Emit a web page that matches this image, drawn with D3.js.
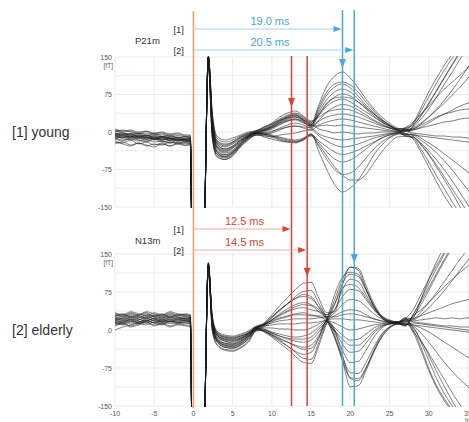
<!DOCTYPE html>
<html>
<head>
<meta charset="utf-8">
<script src="https://cdn.jsdelivr.net/npm/d3@7"></script>
<style>
  body { margin: 0; background: #fff; }
  svg { display: block; font-family: "Liberation Sans", Arial, sans-serif; }
</style>
</head>
<body>
<svg id="chart" width="469" height="422"></svg>
<script>
// sample times (ms) shared by every trace
const times = [-10,-9,-8,-7,-6,-5,-4,-3,-2,-1,-0.4, -0.1,1.2,1.9,2.4, 3,4,5,6,7,8, 9,10,11,12,13,14,15, 16,17,18,19,20,21,22,23,24,25,26,27, 28,29,30,31,32,33,34,35,36]

// [1] young, fT per sensor
const young_traces = [
  [-2,-5,-3,-8,-6,-10,-9,-12,-10,-14,-13, -300,-300,150,30, -20,-28,-22,-12,-5,0, 6,14,24,32,36,28,18, 55,92,112,120,108,88,66,46,30,18,8,5, 18,48,80,108,134,156,176,195,212],
  [4,0,2,-4,-2,-6,-4,-9,-7,-10,-12, -300,-300,148,20, -30,-40,-32,-18,-8,-2, 4,12,22,30,34,24,14, 45,74,90,96,88,72,54,38,24,14,6,-3, -14,-40,-70,-100,-128,-152,-174,-194,-212],
  [-6,-4,-9,-7,-12,-8,-14,-11,-16,-13,-15, -300,-300,150,10, -35,-45,-38,-22,-10,-3, 2,8,18,26,30,22,12, 40,65,80,86,80,66,50,36,22,12,4,2, 6,14,22,30,36,40,44,46,48],
  [-10,-12,-8,-14,-11,-16,-13,-18,-15,-17,-18, -300,-300,145,0, -40,-50,-42,-26,-12,-4, 0,6,14,22,26,20,10, 34,56,70,76,72,60,46,32,20,10,4,-5, 12,32,56,82,108,134,158,180,200],
  [2,-2,-4,-1,-6,-3,-8,-6,-11,-9,-10, -300,-300,152,25, -18,-26,-20,-10,-4,2, 8,16,26,34,38,30,20, 34,52,62,66,60,50,40,30,20,12,6,6, -8,-24,-44,-66,-90,-114,-138,-162,-186],
  [-14,-10,-16,-12,-18,-14,-20,-17,-22,-19,-20, -300,-300,140,-5, -45,-52,-45,-28,-14,-6, -4,0,8,14,18,14,8, 24,40,50,55,52,44,34,24,16,8,2,-4, -6,-8,-10,-12,-14,-16,-18,-20,-22],
  [0,4,0,-3,1,-4,-2,-6,-4,-8,-8, -300,-300,150,35, -12,-20,-16,-8,-2,2, 10,18,30,38,42,32,22, 30,40,44,46,44,38,30,22,14,8,4,3, 10,26,46,70,96,120,146,170,195],
  [-8,-6,-11,-9,-14,-10,-16,-13,-18,-16,-17, -300,-300,146,15, -28,-36,-30,-18,-8,-2, 2,8,16,22,24,18,12, 22,30,34,36,34,30,24,18,12,8,4,-6, -4,-12,-22,-32,-44,-56,-68,-80,-92],
  [-18,-22,-16,-24,-20,-26,-22,-28,-24,-27,-26, -300,-300,138,-10, -48,-55,-48,-30,-16,-6, -6,-2,4,10,12,8,4, 14,20,24,26,24,20,16,12,8,4,2,4, 8,18,30,44,58,74,90,108,126],
  [-4,-8,-6,-10,-8,-12,-10,-14,-12,-15,-14, -300,-300,150,22, -22,-30,-24,-14,-6,0, 4,10,18,24,26,20,12, 12,14,12,14,12,10,8,6,4,2,0,-8, -10,-22,-38,-56,-76,-98,-122,-146,-170],
  [6,2,4,0,2,-2,0,-4,-2,-6,-6, -300,-300,150,40, -8,-16,-12,-6,0,3, 10,16,24,28,30,24,16, 6,2,-2,0,-2,-4,-2,-2,0,0,0,2, 4,8,12,16,20,22,26,28,30],
  [-12,-16,-14,-18,-15,-20,-18,-22,-20,-22,-22, -300,-300,142,5, -38,-46,-40,-24,-10,-3, -2,2,6,10,12,10,8, -4,-10,-14,-16,-14,-12,-10,-8,-5,-3,-1,5, 6,16,30,46,64,84,106,130,156],
  [-20,-24,-28,-22,-26,-30,-24,-28,-22,-26,-24, -300,-300,135,-12, -50,-55,-46,-28,-14,-6, -8,-10,-6,-4,-2,2,4, -8,-18,-26,-30,-28,-24,-18,-12,-8,-4,-2,-7, -10,-26,-46,-70,-96,-122,-150,-176,-200],
  [-2,-6,-4,-10,-7,-12,-9,-14,-12,-16,-16, -300,-300,150,18, -25,-34,-28,-16,-8,-2, -4,-8,-12,-16,-18,-14,-6, -18,-30,-40,-45,-42,-36,-28,-20,-12,-6,-2,3, -2,-4,-6,-8,-8,-10,-10,-12,-12],
  [-10,-8,-12,-10,-14,-12,-16,-14,-18,-16,-18, -300,-300,148,8, -32,-42,-36,-22,-10,-2, -2,-6,-10,-14,-16,-12,-4, -22,-40,-54,-60,-56,-46,-34,-22,-12,-6,-2,8, 14,34,58,84,110,136,162,188,214],
  [-6,-10,-8,-12,-10,-15,-12,-16,-14,-18,-19, -300,-300,144,12, -30,-38,-32,-20,-8,-2, -6,-10,-16,-20,-22,-16,-6, -30,-55,-75,-85,-82,-70,-52,-34,-20,-10,-4,-4, -6,-16,-28,-42,-58,-76,-96,-116,-136],
  [-24,-20,-26,-22,-28,-24,-26,-20,-24,-22,-24, -300,-300,136,-8, -44,-50,-42,-26,-12,-4, -10,-14,-18,-20,-20,-14,-4, -40,-75,-105,-120,-112,-96,-72,-46,-26,-12,-4,1, 4,10,18,28,36,44,52,58,64],
  [-14,-18,-12,-16,-20,-14,-18,-22,-16,-20,-20, -300,-300,140,0, -40,-48,-40,-24,-10,-2, -4,-8,-14,-18,-20,-16,-8, -26,-48,-70,-86,-96,-96,-84,-62,-40,-22,-10,-9, -12,-34,-60,-88,-114,-140,-164,-186,-206],
  [-8,-12,-10,-6,-10,-14,-10,-12,-16,-14,-15, -300,-300,150,28, -24,-34,-28,-16,-6,0, 4,10,20,28,32,24,14, 50,80,96,100,94,80,60,42,26,14,6,7, 16,42,70,98,124,148,170,190,210],
  [-4,-2,-6,-4,-8,-6,-10,-8,-12,-10,-12, -300,-300,152,32, -16,-24,-20,-10,-3,2, 6,12,22,30,34,26,16, 36,58,68,70,68,60,48,36,24,14,6,9, 20,36,52,70,86,100,114,128,140]
]

// [2] elderly, fT per sensor
const elderly_traces = [
  [22,26,20,24,28,22,26,20,24,22,20, -300,-300,134,20, -10,-18,-20,-16,-8,4, 14,30,48,64,80,92,94, 62,34,36,90,124,118,82,48,26,18,16,20, 24,60,100,135,165,190,215,240,260],
  [18,14,20,16,22,18,14,18,16,20,18, -300,-300,130,10, -20,-30,-32,-26,-14,2, 10,24,38,52,66,76,78, 52,24,-10,-60,-112,-110,-80,-44,-14,4,12,12, 6,-24,-60,-96,-126,-150,-172,-190,-210],
  [28,32,26,30,34,28,32,26,30,28,26, -300,-300,128,24, -6,-14,-16,-12,-6,6, 12,26,40,52,62,66,62, 46,30,40,80,100,96,70,44,28,20,16,18, 18,20,22,24,22,24,22,24,22],
  [14,18,12,16,20,14,18,12,16,14,12, -300,-300,126,6, -24,-34,-36,-30,-18,0, 8,20,32,42,50,54,50, 40,24,0,-50,-96,-100,-76,-40,-10,6,12,8, 30,60,92,122,150,176,200,225,250],
  [20,24,30,26,22,28,24,30,26,22,24, -300,-300,132,16, -14,-22,-26,-20,-10,4, 10,20,28,36,42,44,40, 36,30,52,92,110,106,78,46,24,14,12,12, 0,-34,-76,-110,-136,-158,-178,-196,-214],
  [10,14,8,12,16,10,14,8,12,10,8, -300,-300,120,0, -28,-38,-40,-34,-22,0, 6,16,22,26,30,30,28, 28,26,40,66,80,78,60,40,24,16,14,22, 40,70,100,128,154,180,205,230,255],
  [24,20,26,22,18,24,20,26,22,24,22, -300,-300,130,22, -8,-16,-18,-14,-6,6, 10,14,18,20,22,22,22, 24,24,34,50,60,58,46,32,22,16,14,16, 10,4,-4,-14,-24,-34,-44,-54,-64],
  [32,28,34,30,36,32,28,34,30,32,30, -300,-300,124,26, -4,-12,-14,-10,-4,6, 8,10,12,12,12,14,14, 16,20,28,36,40,38,30,22,18,14,14,24, 22,36,54,74,96,118,140,160,180],
  [16,12,18,14,10,16,12,18,14,16,14, -300,-300,122,12, -18,-28,-30,-24,-12,2, 4,4,2,2,0,0,4, 12,20,22,22,20,20,18,16,14,14,14,10, 14,12,10,8,6,4,2,0,-2],
  [26,30,24,28,32,26,30,24,28,26,24, -300,-300,128,18, -10,-20,-22,-18,-8,4, 2,-4,-8,-12,-14,-12,-6, 6,18,14,6,0,2,6,10,12,14,14,20, 20,30,44,60,78,98,118,138,158],
  [0,6,10,14,18,14,20,16,22,18,16, -300,-300,118,4, -22,-32,-34,-28,-16,0, 0,-6,-12,-18,-22,-24,-20, -4,16,4,-10,-20,-18,-8,4,10,12,14,12, 8,-6,-24,-44,-64,-82,-98,-112,-126],
  [20,16,22,18,14,20,16,22,18,20,18, -300,-300,126,14, -16,-26,-28,-22,-12,2, -2,-10,-18,-24,-30,-34,-30, -10,16,0,-28,-44,-42,-26,-6,6,12,14,22, 16,14,12,10,8,8,6,6,4],
  [30,26,32,28,24,30,26,32,28,30,28, -300,-300,130,24, -6,-14,-16,-12,-6,6, -2,-12,-22,-32,-42,-48,-44, -16,18,-4,-40,-64,-62,-40,-14,4,12,14,10, 30,56,84,112,140,166,192,218,244],
  [12,16,20,14,18,22,16,20,14,18,16, -300,-300,124,8, -20,-30,-32,-26,-14,2, -4,-14,-26,-38,-52,-64,-66, -30,14,50,82,90,84,64,42,26,18,16,20, 4,-20,-50,-82,-112,-140,-166,-190,-214],
  [22,18,24,20,26,22,18,24,20,22,20, -300,-300,132,18, -12,-22,-24,-18,-10,4, -2,-10,-20,-32,-44,-56,-58, -24,20,70,104,114,110,80,48,26,16,14,16, 26,50,78,108,136,162,188,214,240],
  [18,22,16,20,24,18,22,16,20,18,16, -300,-300,128,12, -18,-26,-28,-22,-12,2, 12,26,40,52,62,70,66, 44,20,-14,-54,-84,-86,-64,-34,-8,6,12,10, 22,28,34,40,46,52,56,60,64],
  [34,30,36,32,28,34,30,36,32,30,28, -300,-300,126,28, -2,-10,-12,-8,-2,8, 12,18,24,28,32,34,30, 26,18,-16,-60,-94,-96,-74,-42,-14,4,12,14, -4,-40,-80,-114,-140,-162,-182,-200,-218],
  [8,12,6,10,14,8,12,6,10,8,6, -300,-300,120,-2, -30,-40,-42,-36,-24,-2, 0,-6,-12,-16,-18,-18,-14, 2,20,60,100,124,122,88,52,28,18,16,24, -2,-22,-46,-72,-98,-124,-148,-170,-192],
  [26,22,28,24,30,26,22,28,24,26,24, -300,-300,130,20, -10,-18,-20,-16,-8,4, 10,20,30,38,46,50,48, 36,26,26,30,32,30,26,22,18,16,14,18, 10,8,6,4,2,0,-2,-4,-6],
  [14,10,16,12,18,14,10,16,12,14,12, -300,-300,122,6, -22,-34,-36,-30,-18,0, -2,-8,-16,-24,-32,-38,-36, -14,12,-2,-18,-30,-30,-18,-2,8,12,14,8, 28,40,54,70,86,100,114,126,138]
]

const y_ticks = [150, 75, 0, -75, -150]
const x_ticks = [-10, -5, 0, 5, 10, 15, 20, 25, 30, 35]
const group_labels = ['[1] young', '[2] elderly']
const row_labels = ['[1]', '[2]']
const component_names = ['P21m', 'N13m']
const p21m_latency = [19.0, 20.5]
const n13m_latency = [12.5, 14.5]
const p21m_peak = [128, 132]
const n13m_peak = [50, 105]

const blue = '#4ea4dc'
const red = '#d4453a'
const orange = '#e6a66c'

const svg = d3.select('#chart')

const x = d3.scaleLinear().domain([-10, 35]).range([115, 468])

const panels = [
    { traces: young_traces, top: 57, bottom: 207 },
    { traces: elderly_traces, top: 254, bottom: 406 }
]

panels.forEach((p, i) => {
    p.y = d3.scaleLinear().domain([-150, 150]).range([p.bottom, p.top])
    const g = svg.append('g')

    // grid
    g.selectAll('.hgrid')
        .data(d3.range(-150, 150.1, 37.5))
        .enter()
        .append('line')
        .attr('x1', x(-10)).attr('x2', 469)
        .attr('y1', d => p.y(d)).attr('y2', d => p.y(d))
        .attr('stroke', '#e6e6e6')
        .attr('stroke-width', 0.8)
    g.selectAll('.vgrid')
        .data(x_ticks)
        .enter()
        .append('line')
        .attr('x1', d => x(d)).attr('x2', d => x(d))
        .attr('y1', p.top).attr('y2', p.bottom)
        .attr('stroke', '#e6e6e6')
        .attr('stroke-width', 0.8)

    // y tick labels
    g.selectAll('.ylab')
        .data(y_ticks)
        .enter()
        .append('text')
        .attr('x', 112)
        .attr('y', d => p.y(d) + 2.5)
        .attr('text-anchor', 'end')
        .attr('font-size', '7px')
        .attr('fill', '#555')
        .text(d => d)
    g.append('text')
        .attr('x', 113)
        .attr('y', p.top + 11)
        .attr('text-anchor', 'end')
        .attr('font-size', '6.5px')
        .attr('fill', '#555')
        .text('[fT]')

    // traces
    svg.append('clipPath')
        .attr('id', 'clip' + i)
        .append('rect')
        .attr('x', x(-10)).attr('y', p.top - 1)
        .attr('width', 469 - x(-10)).attr('height', p.bottom - p.top + 2)

    const line = d3.line()
        .x((d, k) => x(times[k]))
        .y(d => p.y(d))
        .curve(d3.curveMonotoneX)

    g.append('g')
        .attr('clip-path', 'url(#clip' + i + ')')
        .selectAll('path')
        .data(p.traces)
        .enter()
        .append('path')
        .attr('d', line)
        .attr('fill', 'none')
        .attr('stroke', '#1a1a1a')
        .attr('stroke-opacity', 0.55)
        .attr('stroke-width', 1)

    // group label
    svg.append('text')
        .attr('x', 12)
        .attr('y', p.y(0) + 5)
        .attr('font-size', '14px')
        .attr('fill', '#333')
        .text(group_labels[i])
})

// x tick labels on the lower panel (the last one runs off the edge, as in the original)
svg.selectAll('.xlab')
    .data(x_ticks)
    .enter()
    .append('text')
    .attr('x', d => x(d))
    .attr('y', 416)
    .attr('text-anchor', 'middle')
    .attr('font-size', '7px')
    .attr('fill', '#555')
    .text(d => d)
svg.append('text')
    .attr('x', 465)
    .attr('y', 423)
    .attr('font-size', '6.5px')
    .attr('fill', '#555')
    .text('[ms]')

// stimulus line
svg.append('line')
    .attr('x1', x(0)).attr('x2', x(0))
    .attr('y1', 11).attr('y2', 408)
    .attr('stroke', orange)
    .attr('stroke-width', 1.6)

// latency lines
n13m_latency.forEach(t => {
    svg.append('line')
        .attr('x1', x(t)).attr('x2', x(t))
        .attr('y1', 56).attr('y2', 406)
        .attr('stroke', red)
        .attr('stroke-width', 1.5)
})
p21m_latency.forEach(t => {
    svg.append('line')
        .attr('x1', x(t)).attr('x2', x(t))
        .attr('y1', 10).attr('y2', 406)
        .attr('stroke', blue)
        .attr('stroke-width', 1.5)
})

// down arrows marking the peaks
function downArrow(t, yy, color) {
    const cx = x(t)
    svg.append('path')
        .attr('d', `M${cx - 3.5},${yy - 9}L${cx + 3.5},${yy - 9}L${cx},${yy}Z`)
        .attr('fill', color)
}
panels.forEach((p, i) => {
    downArrow(n13m_latency[i], p.y(n13m_peak[i]), red)
    downArrow(p21m_latency[i], p.y(p21m_peak[i]), blue)
})

// latency brackets above each panel
const annotations = [
    { rows: [29, 50], lat: p21m_latency, color: blue, light: '#a9d2ef', name: component_names[0] },
    { rows: [229, 250], lat: n13m_latency, color: red, light: '#eeaaa3', name: component_names[1] }
]
annotations.forEach(a => {
    a.rows.forEach((ry, k) => {
        const tip = x(a.lat[k])
        svg.append('line')
            .attr('x1', x(0)).attr('x2', tip - 6)
            .attr('y1', ry).attr('y2', ry)
            .attr('stroke', a.light)
            .attr('stroke-width', 1)
        svg.append('path')
            .attr('d', `M${tip - 9},${ry - 3}L${tip - 1},${ry}L${tip - 9},${ry + 3}Z`)
            .attr('fill', a.color)
        svg.append('text')
            .attr('x', 184)
            .attr('y', ry + 3.5)
            .attr('text-anchor', 'end')
            .attr('font-size', '9.5px')
            .attr('fill', '#333')
            .text(row_labels[k])
        svg.append('text')
            .attr('x', (x(0) + x(a.lat[0])) / 2 + 2)
            .attr('y', ry - 4.5)
            .attr('text-anchor', 'middle')
            .attr('font-size', '11px')
            .attr('fill', a.color)
            .text(a.lat[k].toFixed(1) + ' ms')
    })
    svg.append('text')
        .attr('x', 135)
        .attr('y', (a.rows[0] + a.rows[1]) / 2 + 4)
        .attr('font-size', '9.5px')
        .attr('fill', '#333')
        .text(a.name)
})
</script>
</body>
</html>
